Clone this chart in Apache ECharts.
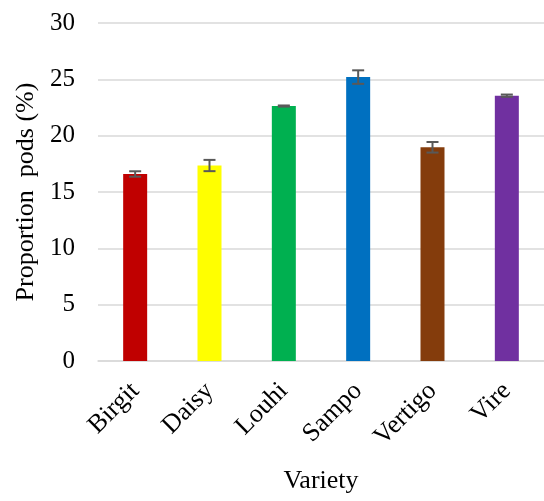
<!DOCTYPE html>
<html><head><meta charset="utf-8">
<script src="https://cdn.jsdelivr.net/npm/echarts@6/dist/echarts.min.js"></script>
<style>html,body{margin:0;padding:0;background:#fff}#c{width:544px;height:501px}</style>
</head><body><div id="c"></div>
<script>
const categories = ['Birgit','Daisy','Louhi','Sampo','Vertigo','Vire'];
const values = [16.6, 17.35, 22.63, 25.2, 18.97, 23.55];
const errors = [0.24, 0.5, 0.05, 0.6, 0.47, 0.1];
const colors = ['#C00000','#FFFF00','#00B050','#0070C0','#843C0C','#7030A0'];
const yTicks = [0,5,10,15,20,25,30];

const chart = echarts.init(document.getElementById('c'));
const font = 'Liberation Serif, Times New Roman, serif';
chart.setOption({
  animation:false,
  grid:{left:98,right:-4,top:23,bottom:140},
  xAxis:{type:'category',data:categories,
    axisLine:{lineStyle:{color:'#d9d9d9',width:1.5}},axisTick:{show:false},
    axisLabel:{rotate:45,color:'#000',fontFamily:font,fontSize:26,margin:26},
    name:'Variety',nameLocation:'middle',nameGap:107,
    nameTextStyle:{color:'#000',fontFamily:font,fontSize:26}},
  yAxis:{type:'value',min:0,max:30,interval:5,
    axisLine:{show:false},axisTick:{show:false},
    splitLine:{lineStyle:{color:'#d9d9d9',width:1.5}},
    axisLabel:{color:'#000',fontFamily:font,fontSize:25,margin:23,
      formatter:v=>yTicks.includes(v)?String(v):''},
    name:'Proportion  pods (%)',nameLocation:'middle',nameGap:59,
    nameTextStyle:{color:'#000',fontFamily:font,fontSize:26}},
  series:[
    {type:'bar',barWidth:24,data:values.map((v,i)=>({value:v,itemStyle:{color:colors[i]}}))},
    {type:'custom',z:10,
      data:values.map((v,i)=>[i,v-errors[i],v+errors[i]]),
      renderItem:function(params,api){
        const x=api.value(0);
        const lo=api.coord([x,api.value(1)]);
        const hi=api.coord([x,api.value(2)]);
        const hw=6;
        const st={stroke:'#595959',lineWidth:2};
        return {type:'group',children:[
          {type:'line',shape:{x1:lo[0],y1:lo[1],x2:hi[0],y2:hi[1]},style:st},
          {type:'line',shape:{x1:lo[0]-hw,y1:lo[1],x2:lo[0]+hw,y2:lo[1]},style:st},
          {type:'line',shape:{x1:hi[0]-hw,y1:hi[1],x2:hi[0]+hw,y2:hi[1]},style:st}
        ]};
      }}
  ]
});
</script></body></html>
